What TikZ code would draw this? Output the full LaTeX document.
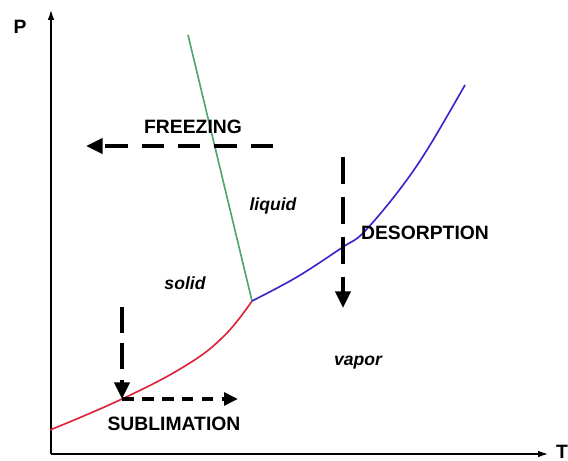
\documentclass[tikz,border=0pt]{standalone}
\usepackage{fontspec}
\setmainfont{Liberation Sans}
\usetikzlibrary{arrows.meta}

\definecolor{solidline}{RGB}{220,35,55}
\definecolor{meltline}{RGB}{80,165,110}
\definecolor{vaporline}{RGB}{60,35,205}

\begin{document}
\begin{tikzpicture}[
  x=0.03cm,y=-0.03cm,
  axis/.style={-{Latex[length=3mm,width=2mm]},line width=1.1pt},
  phase/.style={font=\fontsize{15}{17}\selectfont\bfseries\itshape},
  process/.style={font=\fontsize{16.5}{19}\selectfont\bfseries},
  move/.style={-{Triangle[length=5mm,width=4.6mm]},line width=3pt},
  curve/.style={line width=1.4pt}
]
  \useasboundingbox (0,0) rectangle (568,461);

  % axes
  \coordinate (origin) at (51,454);
  \coordinate (ptop) at (51,10);
  \coordinate (tend) at (548,454);
  \draw[axis] (origin) -- (ptop);
  \draw[axis] (origin) -- (tend);
  \node[process] (plabel) at (20,27) {P};
  \node[process] (tlabel) at (562,452) {T};

  % phase boundaries
  \coordinate (triple) at (252,301);
  \draw[curve,solidline] plot[smooth,tension=0.7] coordinates
    {(50,430) (122,399) (185,366) (224,336) (triple)};
  \draw[curve,meltline] (188,35) -- (triple);
  \draw[curve,vaporline] plot[smooth,tension=0.6] coordinates
    {(triple) (297,277) (343,247) (363,233) (397,193) (427,150) (465,85)};

  % regions
  \node[phase] (liquid) at (273,206) {liquid};
  \node[phase] (solid) at (185,283) {solid};
  \node[phase] (vapor) at (358,363) {vapor};

  % freezing
  \coordinate (fstart) at (273,146);
  \coordinate (fend) at (86,146);
  \draw[move,dash pattern=on 19pt off 12pt] (fstart) -- (fend);
  \node[process] (freezing) at (193,127) {FREEZING};

  % desorption
  \coordinate (dstart) at (343,157);
  \coordinate (dend) at (343,308);
  \draw[move,dash pattern=on 23pt off 11pt] (dstart) -- (dend);
  \node[process] (desorption) at (425,233) {DESORPTION};

  % sublimation
  \coordinate (sstart) at (122,307);
  \coordinate (scorner) at (122,399);
  \coordinate (send) at (238,399);
  \draw[move,dash pattern=on 22pt off 9pt] (sstart) -- (scorner);
  \draw[move,dash pattern=on 10pt off 7pt,
    -{Triangle[length=4.2mm,width=3.8mm]}] (scorner) -- (send);
  \node[process] (sublimation) at (174,424) {SUBLIMATION};
\end{tikzpicture}
\end{document}
